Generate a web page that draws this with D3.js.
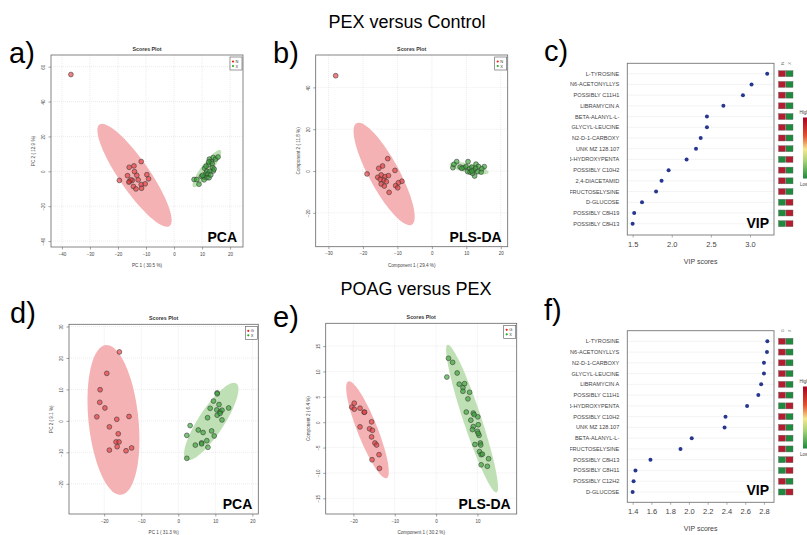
<!DOCTYPE html>
<html>
<head>
<meta charset="utf-8">
<script src="https://cdn.jsdelivr.net/npm/d3@7"></script>
<style>
body { margin: 0; background: #fff; }
svg { display: block; font-family: "Liberation Sans", Arial, sans-serif; }
</style>
</head>
<body>
<svg id="fig" width="807" height="535"></svg>
<script>
// ---- data ----
var titles = ["PEX versus Control", "POAG versus PEX"];

// a) PCA, PEX vs control
var aRed = [[-36.8,55.5],[-11.7,5.6],[-16,2.3],[-14.3,3.1],[-14.1,-0.2],[-16.6,-2.5],[-19.5,-5.2],[-15.9,-5.8],[-14.9,-5.2],[-13.3,-2.3],[-12.8,-4.9],[-9.7,-1.9],[-9.1,-4.3],[-11.7,-7.6],[-10.3,-7.2],[-14.5,-8.7],[-13.6,-10.1],[-11.6,-9.7],[-15.4,-4.9],[-16.1,-6.2]];
var aGreen = [[7.15,-4.7],[8.1,-4.7],[8.9,-7.4],[9.8,-2.9],[10.7,-3.3],[11.3,-1.4],[10.9,1.7],[11.7,0],[12.3,3.7],[12.6,7.0],[13.3,5.6],[14.0,7.9],[14.8,7.0],[15.7,8.2],[13.8,2.1],[12.8,0],[12.1,-1.7],[11.7,-3.7],[10.7,-4.9],[12.5,-3.7],[13.1,-2.1],[14.0,0.2],[13.6,4.5],[12.4,5.4],[14.3,1.3],[11.4,2.9],[10.2,-2.3]];
// ellipse: centre x, centre y, semi axis 1 (x,y), semi axis 2 (x,y)
var aRedEll = [-14.1,-2.3,12.5,-29.1,4.4,5.0];
var aGreenEll = [11.7,1.55,4.9,10.5,1.5,-1.9];

// b) PLS-DA, PEX vs control
var bRed = [[-27.9,45.6],[-12.8,5.9],[-14.3,2.4],[-15.4,1.3],[-18.8,-1.4],[-15.7,-3.0],[-14.7,-1.9],[-13.6,-2.7],[-12.6,-2.2],[-14.0,-4.3],[-13.2,-5.1],[-10.7,0.3],[-14.7,-6.2],[-13.8,-7.2],[-8.7,-4.9],[-9.7,-5.6],[-10.5,-7.0],[-9.9,-8.0],[-12.4,-10.2],[-15.0,-4.0]];
var bGreen = [[6.1,1.6],[7.2,4.5],[8.2,1.9],[9.3,1.6],[10.5,4.5],[9.9,2.1],[10.9,1.1],[11.6,1.8],[12.2,0.5],[12.8,3.3],[13.5,2.2],[15.2,2.1],[12.7,1.3],[13.3,-0.3],[14.3,-0.5],[12.4,-2.4],[10.4,-0.3],[11.1,-0.6],[11.8,-1.1],[6.4,3.2],[8.7,1.3],[14.5,1.1],[11.6,0]];
var bRedEll = [-13.85,-1.4,8.0,-24.3,3.83,3.41];
var bGreenEll = [10.8,1.3,5.66,-2.0,-0.28,-2.18];

// d) PCA, POAG vs PEX
var dRed = [[-15.9,21.9],[-19.3,15.1],[-21.1,9.9],[-21.2,5.9],[-19.8,4.1],[-22.0,1.3],[-16.6,0.5],[-13.3,1.4],[-18.6,-1.9],[-16.2,-4.1],[-16.8,-6.7],[-16.0,-6.7],[-16.5,-8.2],[-18.6,-9.3],[-14.1,-9.5],[-12.6,-8.6]];
var dGreen = [[10.5,8.9],[10.5,8.6],[9.5,6.3],[11.0,5.2],[8.6,4.0],[10.4,3.5],[11.3,2.9],[11.8,3.4],[13.6,4.1],[10.5,1.8],[7.9,1.0],[11.8,0.3],[3.2,-1.5],[5.4,-2.9],[9.0,-3.2],[6.7,-3.7],[9.7,-4.8],[2.3,-4.6],[7.7,-6.3],[6.3,-7.0],[6.3,-7.3],[4.6,-7.7],[8.0,-8.4],[2.3,-11.9],[11.3,2.4]];
var dRedEll = [-17.5,0.3,-2.07,23.8,6.7,0.8];
var dGreenEll = [8.9,-0.2,6.76,12.1,2.86,-2.2];

// e) PLS-DA, POAG vs PEX
var eRed = [[-19.8,3.75],[-20.4,2.96],[-19.8,2.57],[-18.4,2.76],[-17.4,1.97],[-17.3,1.97],[-15.6,0.07],[-18.4,-0.92],[-16.1,-1.3],[-15.4,-1.6],[-15.6,-2.9],[-14.8,-4.1],[-14.4,-4.5],[-13.8,-6.4],[-15.5,-7.4],[-13.7,-9.1]];
var eGreen = [[3.0,12.6],[4.0,11.8],[2.6,8.9],[5.1,9.7],[5.6,7.5],[6.9,7.6],[6.5,6.8],[6.5,6.1],[8.1,5.9],[7.7,4.6],[7.3,2.0],[9.0,1.8],[9.2,1.5],[8.4,0.4],[10.1,1.05],[9.0,-0.86],[8.8,-1.45],[10.2,-0.5],[10.0,-1.8],[10.4,-2.6],[10.2,-2.2],[9.4,-4.4],[10.7,-4.1],[10.8,-4.5],[10.5,-5.8],[10.9,-6.4],[11.2,-6.3],[12.7,-7.2],[10.9,-8.4],[12.4,-8.7]];
var eRedEll = [-16.6,-1.5,4.64,-9.54,2.25,0.73];
var eGreenEll = [8.7,0.72,5.93,-14.57,2.07,0.56];

// c) VIP, PEX vs control
var cNames = ["L-TYROSINE","N6-ACETONYLLYS","POSSIBLY C11H1","LIBRAMYCIN A","BETA-ALANYL-L-","GLYCYL-LEUCINE","N2-D-1-CARBOXY","UNK MZ 128.107","5-HYDROXYPENTA","POSSIBLY C10H2","2,4-DIACETAMID","FRUCTOSELYSINE","D-GLUCOSE","POSSIBLY C8H19","POSSIBLY C8H13"];
var cVip = [3.22,3.02,2.91,2.66,2.45,2.45,2.37,2.31,2.19,1.96,1.87,1.80,1.62,1.52,1.50];
var cFirstHigh = [1,1,1,1,1,1,1,1,0,1,1,1,0,0,0];
var cGroups = ["N","X"];

// f) VIP, POAG vs PEX
var fNames = ["L-TYROSINE","N6-ACETONYLLYS","N2-D-1-CARBOXY","GLYCYL-LEUCINE","LIBRAMYCIN A","POSSIBLY C11H1","5-HYDROXYPENTA","POSSIBLY C10H2","UNK MZ 128.107","BETA-ALANYL-L-","FRUCTOSELYSINE","POSSIBLY C8H13","POSSIBLY C8H11","POSSIBLY C12H2","D-GLUCOSE"];
var fVip = [2.836,2.832,2.80,2.80,2.77,2.74,2.62,2.39,2.38,2.03,1.91,1.59,1.43,1.41,1.40];
var fFirstHigh = [1,1,1,1,1,1,0,1,1,1,1,0,0,1,0];
var fGroups = ["G","X"];

var svg = d3.select("#fig");
var RED = "#b31d2f", GREEN = "#1f8a3d";

// gradient for the heat legend
var grad = svg.append("defs").append("linearGradient")
	.attr("id", "heat").attr("x1", 0).attr("x2", 0).attr("y1", 0).attr("y2", 1);
[["0%","#a8001f"],["30%","#e4502f"],["52%","#f7e68c"],["72%","#a3d273"],["100%","#1b8a3c"]]
	.forEach(function(s) { grad.append("stop").attr("offset", s[0]).attr("stop-color", s[1]); });

// titles and panel letters
svg.append("text").attr("x", 407).attr("y", 28).attr("text-anchor", "middle")
	.style("font-size", "18px").text(titles[0]);
svg.append("text").attr("x", 416).attr("y", 295).attr("text-anchor", "middle")
	.style("font-size", "18px").text(titles[1]);
[["a)",9,63],["b)",273,63],["c)",544,61],["d)",10,323],["e)",273,327],["f)",544,320]]
	.forEach(function(p) {
		svg.append("text").attr("x", p[1]).attr("y", p[2]).style("font-size", "29px").text(p[0]);
	});

function ellPath(e, x, y) {
	var pts = d3.range(72).map(function(i) {
		var t = i / 72 * 2 * Math.PI;
		return [x(e[0] + e[2] * Math.cos(t) + e[4] * Math.sin(t)),
		        y(e[1] + e[3] * Math.cos(t) + e[5] * Math.sin(t))];
	});
	return d3.line().curve(d3.curveLinearClosed)(pts);
}

function scatter(o) {
	var g = svg.append("g");
	var x = d3.scaleLinear().domain(o.xd).range([o.l, o.r]);
	var y = d3.scaleLinear().domain(o.yd).range([o.b, o.t]);

	// dotted grid
	g.selectAll(".gx").data(o.xt).enter().append("line")
		.attr("x1", function(d) { return x(d); }).attr("x2", function(d) { return x(d); })
		.attr("y1", o.t).attr("y2", o.b)
		.attr("stroke", "#d8d8d8").attr("stroke-width", 0.5).attr("stroke-dasharray", "1,1");
	g.selectAll(".gy").data(o.yt).enter().append("line")
		.attr("y1", function(d) { return y(d); }).attr("y2", function(d) { return y(d); })
		.attr("x1", o.l).attr("x2", o.r)
		.attr("stroke", "#d8d8d8").attr("stroke-width", 0.5).attr("stroke-dasharray", "1,1");

	// confidence ellipses
	g.append("path").attr("d", ellPath(o.redEll, x, y)).attr("fill", "#f5b2b4");
	g.append("path").attr("d", ellPath(o.greenEll, x, y)).attr("fill", "#bfe0b4");

	// points
	g.selectAll(".pr").data(o.red).enter().append("circle")
		.attr("cx", function(d) { return x(d[0]); }).attr("cy", function(d) { return y(d[1]); })
		.attr("r", 2.4).attr("fill", "rgba(232,58,62,0.65)")
		.attr("stroke", "#3a3a3a").attr("stroke-width", 0.6);
	g.selectAll(".pg").data(o.green).enter().append("circle")
		.attr("cx", function(d) { return x(d[0]); }).attr("cy", function(d) { return y(d[1]); })
		.attr("r", 2.4).attr("fill", "rgba(52,165,52,0.65)")
		.attr("stroke", "#3a3a3a").attr("stroke-width", 0.6);

	// frame
	g.append("rect").attr("x", o.l).attr("y", o.t).attr("width", o.r - o.l).attr("height", o.b - o.t)
		.attr("fill", "none").attr("stroke", "#666").attr("stroke-width", 0.8);

	// axes
	var ax = g.append("g").attr("transform", "translate(0," + o.b + ")")
		.call(d3.axisBottom(x).tickValues(o.xt).tickSize(2.5).tickPadding(3));
	var ay = g.append("g").attr("transform", "translate(" + o.l + ",0)")
		.call(d3.axisLeft(y).tickValues(o.yt).tickSize(2.5));
	[ax, ay].forEach(function(a) {
		a.select(".domain").remove();
		a.selectAll("line").attr("stroke", "#666").attr("stroke-width", 0.6);
		a.selectAll("text").style("font-size", "4.5px").attr("fill", "#444");
	});
	ay.selectAll("text").attr("transform", "rotate(-90)")
		.attr("x", 0).attr("y", -6).attr("dy", 0).style("text-anchor", "middle");

	// labels
	g.append("text").attr("x", (o.l + o.r) / 2).attr("y", o.t - 4).attr("text-anchor", "middle")
		.style("font-size", "5.3px").style("font-weight", "bold").attr("fill", "#333").text("Scores Plot");
	g.append("text").attr("x", (o.l + o.r) / 2).attr("y", o.b + 20).attr("text-anchor", "middle")
		.style("font-size", "4.6px").attr("fill", "#444").text(o.xlab);
	g.append("text").attr("transform", "translate(" + (o.l - 16) + "," + ((o.t + o.b) / 2) + ") rotate(-90)")
		.attr("text-anchor", "middle").style("font-size", "4.6px").attr("fill", "#444").text(o.ylab);
	g.append("text").attr("x", o.r - 6).attr("y", o.b - 5).attr("text-anchor", "end")
		.style("font-size", "14px").style("font-weight", "bold").text(o.tag);

	// legend
	var lg = g.append("g").attr("transform", "translate(" + (o.r - 13) + "," + (o.t + 2) + ")");
	lg.append("rect").attr("width", 12).attr("height", 13).attr("fill", "#fff")
		.attr("stroke", "#555").attr("stroke-width", 0.6);
	[["#e82020", o.groups[0]], ["#22aa22", o.groups[1]]].forEach(function(e, i) {
		lg.append("circle").attr("cx", 3).attr("cy", 4.5 + i * 4.5).attr("r", 1.1).attr("fill", e[0]);
		lg.append("text").attr("x", 5.5).attr("y", 6 + i * 4.5).style("font-size", "4px").attr("fill", "#333").text(e[1]);
	});
}

function vip(o) {
	var g = svg.append("g");
	var x = d3.scaleLinear().domain(o.xd).range([o.l, o.r]);
	var y = d3.scalePoint().domain(o.names).range([o.y0, o.y1]);

	g.selectAll(".row").data(o.names).enter().append("line")
		.attr("x1", o.l).attr("x2", o.r)
		.attr("y1", function(d) { return y(d); }).attr("y2", function(d) { return y(d); })
		.attr("stroke", "#d0d0d0").attr("stroke-width", 0.5).attr("stroke-dasharray", "1,1");

	g.append("rect").attr("x", o.l).attr("y", o.t).attr("width", o.r - o.l).attr("height", o.b - o.t)
		.attr("fill", "none").attr("stroke", "#777").attr("stroke-width", 0.9);

	g.selectAll(".dot").data(o.vals).enter().append("circle")
		.attr("cx", function(d) { return x(d); })
		.attr("cy", function(d, i) { return y(o.names[i]); })
		.attr("r", 2).attr("fill", "#27378f");

	// row labels, cut at the left like the original
	var clipId = "clip" + o.id;
	svg.select("defs").append("clipPath").attr("id", clipId)
		.append("rect").attr("x", 570).attr("y", o.t - 10).attr("width", o.l - 570).attr("height", o.b - o.t + 20);
	g.append("g").attr("clip-path", "url(#" + clipId + ")")
		.selectAll("text").data(o.names).enter().append("text")
		.attr("x", o.l - 8).attr("y", function(d) { return y(d) + 2; })
		.attr("text-anchor", "end").style("font-size", "5.6px").attr("fill", "#444")
		.text(function(d) { return d; });

	var ax = g.append("g").attr("transform", "translate(0," + o.b + ")")
		.call(d3.axisBottom(x).tickValues(o.ticks).tickFormat(d3.format(".1f")).tickSize(2.5).tickPadding(4));
	ax.select(".domain").remove();
	ax.selectAll("line").attr("stroke", "#777").attr("stroke-width", 0.6);
	ax.selectAll("text").style("font-size", "7.5px").attr("fill", "#444");
	g.append("text").attr("x", (o.l + o.r) / 2).attr("y", o.b + 29).attr("text-anchor", "middle")
		.style("font-size", "7px").attr("fill", "#444").text("VIP scores");

	g.append("text").attr("x", o.r - 5).attr("y", o.b - 7).attr("text-anchor", "end")
		.style("font-size", "14px").style("font-weight", "bold").text("VIP");

	// heat boxes
	var cols = [778.5, 786];
	o.names.forEach(function(n, i) {
		[0, 1].forEach(function(j) {
			var high = (j === 0) === (o.first[i] === 1);
			g.append("rect").attr("x", cols[j]).attr("y", y(n) - 3).attr("width", 7).attr("height", 6)
				.attr("fill", high ? RED : GREEN).attr("stroke", "#666").attr("stroke-width", 0.4);
		});
	});
	o.groups.forEach(function(s, j) {
		g.append("text").attr("transform", "translate(" + (cols[j] + 5) + "," + (o.y0 - 9) + ") rotate(-90)")
			.style("font-size", "4px").attr("fill", "#555").text(s);
	});

	// colour legend (cut by the right edge, as in the original)
	g.append("text").attr("x", 799.5).attr("y", o.bar0 - 4).style("font-size", "4.5px").attr("fill", "#444").text("High");
	g.append("rect").attr("x", 803).attr("y", o.bar0).attr("width", 8).attr("height", o.bar1 - o.bar0)
		.attr("fill", "url(#heat)");
	g.append("text").attr("x", 800).attr("y", o.bar1 + 7).style("font-size", "4.5px").attr("fill", "#444").text("Low");
}

scatter({ l: 51, r: 243, t: 55, b: 247, xd: [-43.9, 24.6], yd: [-43.4, 66.7],
	xt: d3.range(-40, 21, 10), yt: d3.range(-40, 61, 20),
	red: aRed, green: aGreen, redEll: aRedEll, greenEll: aGreenEll,
	xlab: "PC 1 ( 30.5 %)", ylab: "PC 2 ( 12.9 %)", tag: "PCA", groups: ["N", "X"] });

scatter({ l: 315.7, r: 507.7, t: 55, b: 246.7, xd: [-33.7, 22.0], yd: [-36.2, 55.5],
	xt: d3.range(-30, 21, 10), yt: d3.range(-20, 41, 20),
	red: bRed, green: bGreen, redEll: bRedEll, greenEll: bGreenEll,
	xlab: "Component 1 ( 29.4 %)", ylab: "Component 2 ( 11.8 %)", tag: "PLS-DA", groups: ["N", "X"] });

scatter({ l: 69, r: 258.3, t: 324.3, b: 514, xd: [-29.5, 21.6], yd: [-29.6, 30.7],
	xt: d3.range(-20, 21, 10), yt: d3.range(-20, 31, 10),
	red: dRed, green: dGreen, redEll: dRedEll, greenEll: dGreenEll,
	xlab: "PC 1 ( 31.3 %)", ylab: "PC 2 ( 9.1 %)", tag: "PCA", groups: ["G", "X"] });

scatter({ l: 325.7, r: 516.7, t: 323.3, b: 514, xd: [-26.7, 19.5], yd: [-18.1, 19.5],
	xt: d3.range(-20, 11, 10), yt: d3.range(-15, 16, 5),
	red: eRed, green: eGreen, redEll: eRedEll, greenEll: eGreenEll,
	xlab: "Component 1 ( 30.2 %)", ylab: "Component 2 ( 6.4 %)", tag: "PLS-DA", groups: ["G", "X"] });

vip({ id: "c", l: 627.3, r: 774, t: 63.3, b: 235, y0: 73.7, y1: 223.7, xd: [1.432, 3.307],
	ticks: [1.5, 2.0, 2.5, 3.0], names: cNames, vals: cVip, first: cFirstHigh, groups: cGroups,
	bar0: 117.5, bar1: 178.5 });

vip({ id: "f", l: 627.3, r: 774, t: 330.7, b: 502.3, y0: 341.3, y1: 492, xd: [1.343, 2.907],
	ticks: [1.4, 1.6, 1.8, 2.0, 2.2, 2.4, 2.6, 2.8], names: fNames, vals: fVip, first: fFirstHigh, groups: fGroups,
	bar0: 386.5, bar1: 448.5 });
</script>
</body>
</html>
